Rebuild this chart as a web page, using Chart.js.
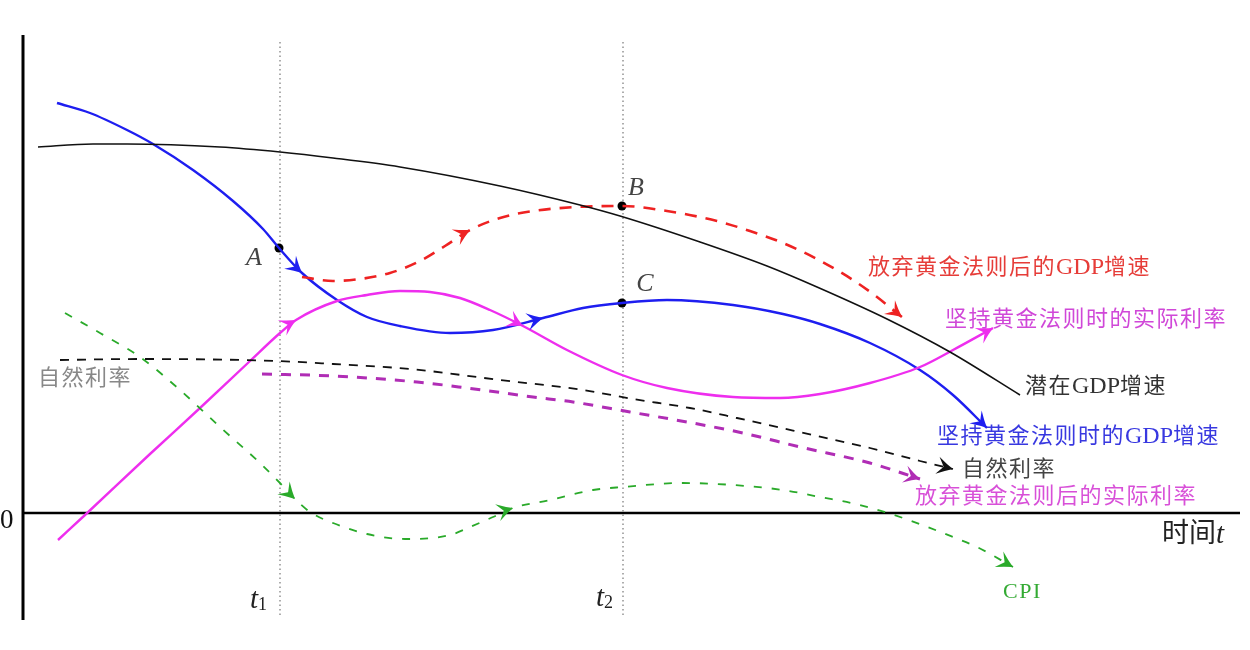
<!DOCTYPE html>
<html>
<head>
<meta charset="utf-8">
<script src="https://cdn.jsdelivr.net/npm/chart.js@4.4.1/dist/chart.umd.min.js"></script>
<style>
  html, body { margin: 0; padding: 0; background: #fff; }
  #wrap { width: 1250px; height: 650px; }
</style>
</head>
<body>
<div id="wrap"><canvas id="diagram"></canvas></div>
<script>
// 时间轴单位任意, 0 在纵轴上; 纵向数值单位任意, 0 在时间轴上
const t1 = 25.5;
const t2 = 59.8;

// 潜在GDP增速
const potentialGdp = [
    [1.3, 36.6], [6.8, 36.9], [10.2, 36.9], [19.5, 36.6], [25.5, 36.1], [30.8, 35.5],
    [37.5, 34.6], [47.5, 32.7], [55.5, 30.8], [59.5, 29.7], [67.5, 27.1], [74.2, 24.7],
    [79.2, 22.6], [86.2, 19.4], [92.5, 16.1], [99.5, 11.8]
];
// 坚持黄金法则时的GDP增速
const keepGdp = [
    [3.2, 41.0], [6.5, 40.0], [10.2, 38.3], [12.8, 36.9], [16.8, 34.3], [20.8, 31.2],
    [23.8, 28.4], [25.4, 26.5], [27.7, 24.0], [31.2, 21.3], [34.2, 19.6], [37.5, 18.7],
    [42.5, 18.0], [46.8, 18.3], [51.8, 19.5], [55.8, 20.5], [59.7, 21.0], [64.2, 21.3],
    [70.8, 20.8], [75.8, 19.9], [79.5, 18.9], [84.5, 17.0], [89.5, 14.3], [92.8, 11.8],
    [96.2, 8.5]
];
// 放弃黄金法则后的GDP增速
const dropGdp = [
    [27.7, 23.6], [30.8, 23.2], [33.5, 23.4], [36.5, 24.0], [39.5, 25.2], [42.0, 26.7],
    [44.5, 28.3], [47.5, 29.5], [50.8, 30.2], [55.2, 30.6], [59.7, 30.7], [64.2, 30.2],
    [69.2, 29.2], [72.5, 28.2], [75.8, 27.0], [79.2, 25.4], [82.8, 23.3], [84.8, 21.9],
    [87.7, 19.6]
];
// 坚持黄金法则时的实际利率
const keepRate = [
    [3.3, -2.7], [6.0, -0.2], [12.5, 5.9], [17.5, 10.5], [22.5, 15.2], [25.5, 18.0],
    [27.1, 19.3], [31.2, 21.2], [34.2, 21.8], [37.5, 22.2], [40.5, 22.1], [43.5, 21.5],
    [46.5, 20.3], [49.8, 18.7], [54.2, 16.3], [59.7, 13.8], [64.2, 12.5], [70.8, 11.6],
    [75.5, 11.5], [79.5, 11.9], [84.5, 13.0], [89.5, 14.6], [92.8, 16.3], [96.8, 18.5]
];
// 自然利率
const naturalRate = [
    [3.5, 15.3], [11.5, 15.4], [25.2, 15.2], [30.8, 14.9], [38.5, 14.4], [47.5, 13.3],
    [55.8, 12.3], [60.8, 11.4], [66.5, 10.5], [71.2, 9.5], [79.2, 7.7], [84.5, 6.5],
    [89.5, 5.2], [92.8, 4.4]
];
// 放弃黄金法则后的实际利率
const dropRate = [
    [23.7, 13.9], [30.8, 13.7], [39.2, 13.1], [44.2, 12.5], [50.8, 11.6], [54.8, 11.1],
    [60.5, 10.1], [66.2, 9.1], [71.8, 8.0], [77.5, 6.6], [84.5, 5.0], [89.5, 3.4]
];
// CPI
const cpi = [
    [4.0, 20.0], [7.5, 18.0], [11.5, 15.6], [15.5, 12.3], [19.5, 8.6], [23.5, 5.0],
    [25.5, 3.0], [27.0, 1.4], [28.5, 0.1], [30.8, -1.0], [34.2, -2.1], [38.0, -2.6],
    [42.5, -2.2], [44.5, -1.4], [46.8, -0.4], [48.8, 0.5], [52.5, 1.3], [56.8, 2.3],
    [59.8, 2.6], [65.8, 3.0], [70.8, 2.8], [75.8, 2.3], [79.5, 1.6], [83.5, 0.8],
    [87.8, -0.5], [92.8, -2.4], [95.2, -3.4], [98.8, -5.4]
];
// A, B, C 三点
const pointNames = ["A", "B", "C"];
const markedPoints = [[25.4, 26.5], [59.7, 30.7], [59.7, 21.0]];

const serif = '"Liberation Serif", "DejaVu Serif", "Noto Sans CJK SC", serif';
const cjk = '22px ' + serif;
const latin = '24px ' + serif;

function curve(data, color, width, dash, arrows) {
    return {
        data: data,
        borderColor: color,
        borderWidth: width,
        borderDash: dash,
        pointRadius: 0,
        fill: false,
        cubicInterpolationMode: "monotone",
        arrows: arrows
    };
}

const datasets = [
    curve(potentialGdp, "#111", 1.6, [], []),
    curve(naturalRate, "#111", 1.8, [9, 8], [naturalRate.length - 1]),
    curve(dropRate, "#b02db5", 3, [10, 9], [dropRate.length - 1]),
    curve(cpi, "#2aaa2a", 1.8, [8, 10], [7, 15, cpi.length - 1]),
    curve(keepRate, "#ee2eee", 2.4, [], [6, 13, keepRate.length - 1]),
    curve(dropGdp, "#ee2222", 2.6, [12, 9], [6, dropGdp.length - 1]),
    curve(keepGdp, "#1e1ef0", 2.4, [], [8, 14, keepGdp.length - 1]),
    {
        data: markedPoints,
        showLine: false,
        pointRadius: 4.5,
        pointBackgroundColor: "#000",
        pointBorderWidth: 0
    }
];

// 曲线旁的文字 (数据坐标, 左对齐, 垂直居中)
const notes = [
    { at: [84.3, 24.5], color: "#e63c38", runs: [["放弃黄金法则后的", cjk], ["GDP", latin], ["增速", cjk]] },
    { at: [92.0, 19.3], color: "#d048d8", runs: [["坚持黄金法则时的实际利率", cjk]] },
    { at: [100.0, 12.6], color: "#333", runs: [["潜在", cjk], ["GDP", latin], ["增速", cjk]] },
    { at: [91.2, 7.6], color: "#3838e0", runs: [["坚持黄金法则时的", cjk], ["GDP", latin], ["增速", cjk]] },
    { at: [93.7, 4.3], color: "#444", runs: [["自然利率", cjk]] },
    { at: [89.0, 1.6], color: "#d850d8", runs: [["放弃黄金法则后的实际利率", cjk]] },
    { at: [1.3, 13.4], color: "#888", runs: [["自然利率", cjk]] },
    { at: [97.8, -7.9], color: "#33aa33", runs: [["CPI", "22px " + serif]] },
    { at: [113.7, -2.2], color: "#222", runs: [["时间", "27px " + serif], ["t", "italic 29px " + serif]] },
    { at: [-2.5, -0.8], color: "#111", runs: [["0", "27px " + serif]] },
    { at: [t1 - 3.0, -8.7], color: "#222", runs: [["t", "italic 29px " + serif], ["1", "18px " + serif, 5]] },
    { at: [t2 - 2.7, -8.5], color: "#222", runs: [["t", "italic 29px " + serif], ["2", "18px " + serif, 5]] }
];
const nameOffsets = [[-2.5, -1.0], [1.4, 1.8], [2.3, 1.9]];

function drawRuns(ctx, runs, x, y, color) {
    ctx.fillStyle = color;
    ctx.textBaseline = "middle";
    ctx.textAlign = "left";
    runs.forEach(run => {
        ctx.font = run[1];
        ctx.letterSpacing = run[1] === cjk ? "1.5px" : "0px";
        ctx.fillText(run[0], x, y + (run[2] || 0));
        x += ctx.measureText(run[0]).width;
    });
    ctx.letterSpacing = "0px";
}

function arrowHead(ctx, x, y, ang, color, len) {
    ctx.save();
    ctx.translate(x, y);
    ctx.rotate(ang);
    ctx.beginPath();
    ctx.moveTo(0, 0);
    ctx.quadraticCurveTo(-len * 0.45, -len * 0.2, -len, -len * 0.55);
    ctx.lineTo(-len * 0.6, 0);
    ctx.lineTo(-len, len * 0.55);
    ctx.quadraticCurveTo(-len * 0.45, len * 0.2, 0, 0);
    ctx.closePath();
    ctx.fillStyle = color;
    ctx.fill();
    ctx.restore();
}

const decor = {
    id: "decor",
    beforeDatasetsDraw(chart) {
        const ctx = chart.ctx;
        const sx = chart.scales.x, sy = chart.scales.y;
        ctx.save();
        // 坐标轴
        ctx.strokeStyle = "#000";
        ctx.lineWidth = 3;
        ctx.beginPath();
        ctx.moveTo(sx.getPixelForValue(-0.2), sy.getPixelForValue(47.8));
        ctx.lineTo(sx.getPixelForValue(-0.2), sy.getPixelForValue(-10.7));
        ctx.stroke();
        ctx.lineWidth = 2.4;
        ctx.beginPath();
        ctx.moveTo(sx.getPixelForValue(-0.2), sy.getPixelForValue(0));
        ctx.lineTo(sx.getPixelForValue(121.5), sy.getPixelForValue(0));
        ctx.stroke();
        // t1, t2 点线
        ctx.strokeStyle = "#777";
        ctx.lineWidth = 1.2;
        ctx.setLineDash([1.5, 3]);
        [t1, t2].forEach(t => {
            ctx.beginPath();
            ctx.moveTo(sx.getPixelForValue(t), sy.getPixelForValue(47.1));
            ctx.lineTo(sx.getPixelForValue(t), sy.getPixelForValue(-10.4));
            ctx.stroke();
        });
        ctx.restore();
    },
    afterDatasetsDraw(chart) {
        const ctx = chart.ctx;
        const sx = chart.scales.x, sy = chart.scales.y;
        ctx.save();
        chart.data.datasets.forEach((ds, i) => {
            if (!ds.arrows) return;
            const pts = chart.getDatasetMeta(i).data;
            ds.arrows.forEach(k => {
                const a = pts[k - 1];
                const b = pts[Math.min(k + 1, pts.length - 1)];
                const ang = Math.atan2(b.y - a.y, b.x - a.x);
                arrowHead(ctx, pts[k].x, pts[k].y, ang, ds.borderColor, 16);
            });
        });
        notes.forEach(n => {
            drawRuns(ctx, n.runs, sx.getPixelForValue(n.at[0]), sy.getPixelForValue(n.at[1]), n.color);
        });
        pointNames.forEach((name, i) => {
            const p = markedPoints[i], o = nameOffsets[i];
            ctx.font = "italic 26px " + serif;
            ctx.fillStyle = "#444";
            ctx.textAlign = "center";
            ctx.textBaseline = "middle";
            ctx.fillText(name, sx.getPixelForValue(p[0] + o[0]), sy.getPixelForValue(p[1] + o[1]));
        });
        ctx.restore();
    }
};

new Chart(document.getElementById("diagram").getContext("2d"), {
    type: "line",
    data: { datasets: datasets },
    options: {
        responsive: true,
        maintainAspectRatio: false,
        animation: false,
        events: [],
        layout: { padding: 0, autoPadding: false },
        plugins: {
            legend: { display: false },
            tooltip: { enabled: false }
        },
        scales: {
            x: { type: "linear", display: false, min: -2.5, max: 122.5 },
            y: { type: "linear", display: false, min: -13.7, max: 51.3 }
        }
    },
    plugins: [decor]
});
</script>
</body>
</html>
